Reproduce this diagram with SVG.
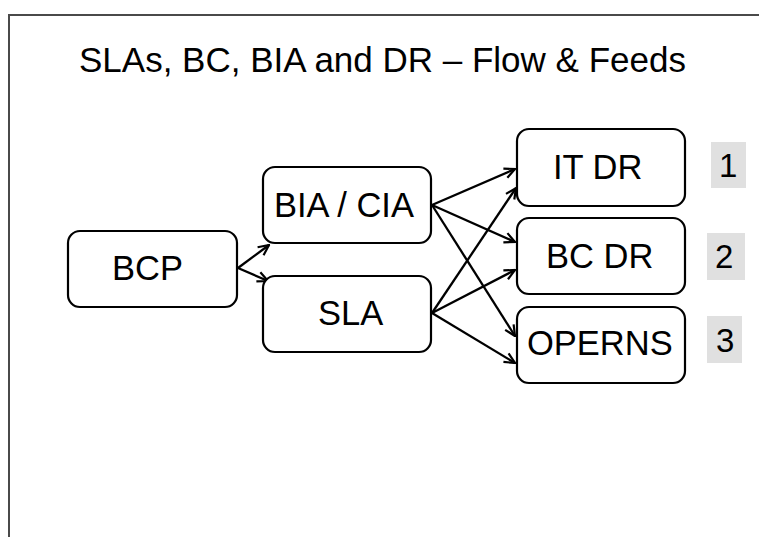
<svg xmlns="http://www.w3.org/2000/svg" width="759" height="538" viewBox="0 0 759 538">
  <style>
    .frame { stroke: #4a4a4a; stroke-width: 2; fill: none; }
    .title { font-family: "Liberation Sans", Arial, sans-serif; font-size: 35px; fill: #000; }
    .box { fill: #fff; stroke: #000; stroke-width: 2.2; }
    .label { font-family: "Liberation Sans", Arial, sans-serif; font-size: 34.5px; fill: #000; }
    .tag { fill: #e0e0e0; stroke: none; }
    .tagtext { font-family: "Liberation Sans", Arial, sans-serif; font-size: 33px; fill: #000; }
    .link { stroke: #000; stroke-width: 2.3; fill: none; marker-end: url(#arrow); }
  </style>
  <defs>
    <marker id="arrow" viewBox="0 0 14 14" refX="13" refY="7" markerWidth="14" markerHeight="14" markerUnits="userSpaceOnUse" orient="auto">
      <path d="M2.5,2 L13,7 L2.5,12" fill="none" stroke="#000" stroke-width="2.2"/>
    </marker>
  </defs>

  <rect width="759" height="538" fill="#fff"/>

  <!-- slide frame -->
  <path class="frame" d="M9,537 L9,15 L759,15"/>

  <text class="title" x="79" y="72">SLAs, BC, BIA and DR – Flow &amp; Feeds</text>

  <g id="connectors">
    <line class="link" x1="238" y1="268" x2="269" y2="245"/>
    <line class="link" x1="238" y1="268" x2="268" y2="281"/>
    <line class="link" x1="432" y1="205" x2="515" y2="169"/>
    <line class="link" x1="432" y1="205" x2="515" y2="242"/>
    <line class="link" x1="432" y1="205" x2="515" y2="336"/>
    <line class="link" x1="432" y1="313" x2="516" y2="188"/>
    <line class="link" x1="432" y1="313" x2="515" y2="270"/>
    <line class="link" x1="432" y1="313" x2="515" y2="363"/>
  </g>

  <g id="bcp">
    <rect class="box" x="68" y="231" width="169" height="76" rx="12"/>
    <text class="label" x="112" y="280">BCP</text>
  </g>

  <g id="bia-cia">
    <rect class="box" x="263" y="167" width="168" height="76" rx="12"/>
    <text class="label" x="274" y="217">BIA / CIA</text>
  </g>

  <g id="sla">
    <rect class="box" x="263" y="276" width="168" height="76" rx="12"/>
    <text class="label" x="318" y="325">SLA</text>
  </g>

  <g id="it-dr">
    <rect class="box" x="517" y="129" width="168" height="77" rx="12"/>
    <text class="label" x="553" y="179">IT DR</text>
  </g>

  <g id="bc-dr">
    <rect class="box" x="517" y="218" width="168" height="76" rx="12"/>
    <text class="label" x="546" y="268">BC DR</text>
  </g>

  <g id="operns">
    <rect class="box" x="517" y="307" width="168" height="76" rx="12"/>
    <text class="label" x="527" y="355">OPERNS</text>
  </g>

  <g id="tag-1">
    <rect class="tag" x="711" y="142" width="35" height="46"/>
    <text class="tagtext" x="719" y="177">1</text>
  </g>

  <g id="tag-2">
    <rect class="tag" x="707" y="233" width="38" height="47"/>
    <text class="tagtext" x="715" y="268">2</text>
  </g>

  <g id="tag-3">
    <rect class="tag" x="707" y="316" width="35" height="47"/>
    <text class="tagtext" x="716" y="352">3</text>
  </g>
</svg>
